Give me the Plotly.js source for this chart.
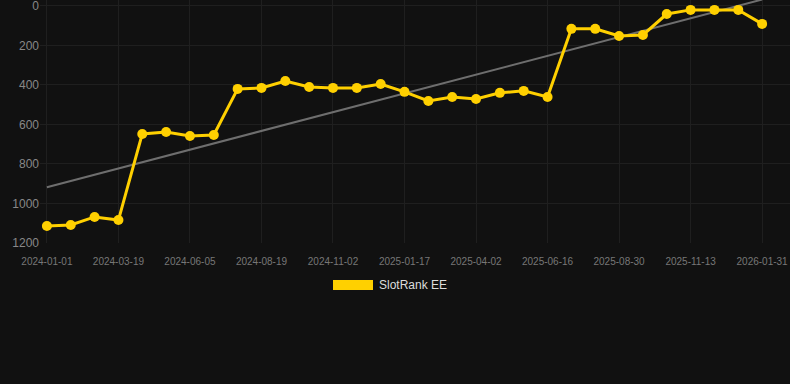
<!DOCTYPE html>
<html>
<head>
<meta charset="utf-8">
<script src="https://cdn.plot.ly/plotly-3.0.1.min.js"></script>
<style>
  html, body { margin: 0; padding: 0; background: #111111; }
  #chart { width: 790px; height: 384px; }
</style>
</head>
<body>
<div id="chart"></div>
<script>
var dates = [
  "2024-01-01", "2024-01-27", "2024-02-22", "2024-03-19", "2024-04-14", "2024-05-10",
  "2024-06-05", "2024-06-30", "2024-07-25", "2024-08-19", "2024-09-13", "2024-10-08",
  "2024-11-02", "2024-11-28", "2024-12-23", "2025-01-17", "2025-02-11", "2025-03-08",
  "2025-04-02", "2025-04-27", "2025-05-22", "2025-06-16", "2025-07-11", "2025-08-05",
  "2025-08-30", "2025-09-24", "2025-10-19", "2025-11-13", "2025-12-09", "2026-01-05",
  "2026-01-31"
];
var ranks = [
  1114, 1109, 1068, 1084, 648, 638,
  658, 653, 420, 415, 380, 410,
  415, 415, 395, 435, 481, 461,
  471, 440, 430, 461, 116, 116,
  152, 147, 41, 20, 20, 20,
  91
];
var tickDates = [
  "2024-01-01", "2024-03-19", "2024-06-05", "2024-08-19", "2024-11-02", "2025-01-17",
  "2025-04-02", "2025-06-16", "2025-08-30", "2025-11-13", "2026-01-31"
];
var yTicks = [0, 200, 400, 600, 800, 1000, 1200];
var seriesName = "SlotRank EE";

// linear trend (least squares over point index)
var n = ranks.length;
var mx = 0, my = 0;
for (var i = 0; i < n; i++) { mx += i; my += ranks[i]; }
mx /= n; my /= n;
var sxy = 0, sxx = 0;
for (var i = 0; i < n; i++) { sxy += (i - mx) * (ranks[i] - my); sxx += (i - mx) * (i - mx); }
var slope = sxy / sxx;
var icpt = my - slope * mx;
var trendY = dates.map(function (d, i) { return icpt + slope * i; });

var gold = "#FFD000";
var grid = "#1f1f1f";

var traces = [
  {
    x: dates, y: trendY, type: "scatter", mode: "lines",
    line: { color: "#6e6e6e", width: 2 },
    hoverinfo: "skip", showlegend: false
  },
  {
    x: dates, y: ranks, type: "scatter", mode: "lines+markers",
    name: seriesName,
    line: { color: gold, width: 3 },
    marker: { color: gold, size: 10 },
    showlegend: false
  }
];

var layout = {
  width: 790, height: 384,
  paper_bgcolor: "#111111", plot_bgcolor: "#111111",
  margin: { l: 40, r: 0, t: 0, b: 141 },
  showlegend: false,
  font: { family: "Liberation Sans, Arial, sans-serif" },
  xaxis: {
    type: "category",
    range: [-0.29, 31.17],
    tickmode: "array",
    tickvals: tickDates,
    ticktext: tickDates,
    tickangle: 0,
    tickfont: { size: 10, color: "#777777" },
    gridcolor: grid,
    showline: false,
    zeroline: false,
    ticks: "outside",
    ticklen: 9,
    tickcolor: "rgba(0,0,0,0)"
  },
  yaxis: {
    range: [1200, -30],
    tickmode: "array",
    tickvals: yTicks,
    ticktext: yTicks.map(String),
    tickfont: { size: 12, color: "#888888" },
    ticklabeloverflow: "allow",
    gridcolor: grid,
    zeroline: false,
    showline: false,
    ticks: "",
    ticklen: 0
  },
  shapes: [
    {
      type: "rect", xref: "paper", yref: "paper",
      x0: (333 - 40) / 750, x1: (373 - 40) / 750,
      y0: (384 - 141 - 290) / 243, y1: (384 - 141 - 280) / 243,
      fillcolor: gold, line: { width: 0 }
    }
  ],
  annotations: [
    {
      text: seriesName, xref: "paper", yref: "paper",
      x: (377 - 40) / 750, y: (384 - 141 - 285) / 243,
      xanchor: "left", yanchor: "middle", showarrow: false,
      font: { size: 12, color: "#dddddd" }
    }
  ]
};

Plotly.newPlot("chart", traces, layout, { displayModeBar: false, staticPlot: true });
</script>
</body>
</html>
